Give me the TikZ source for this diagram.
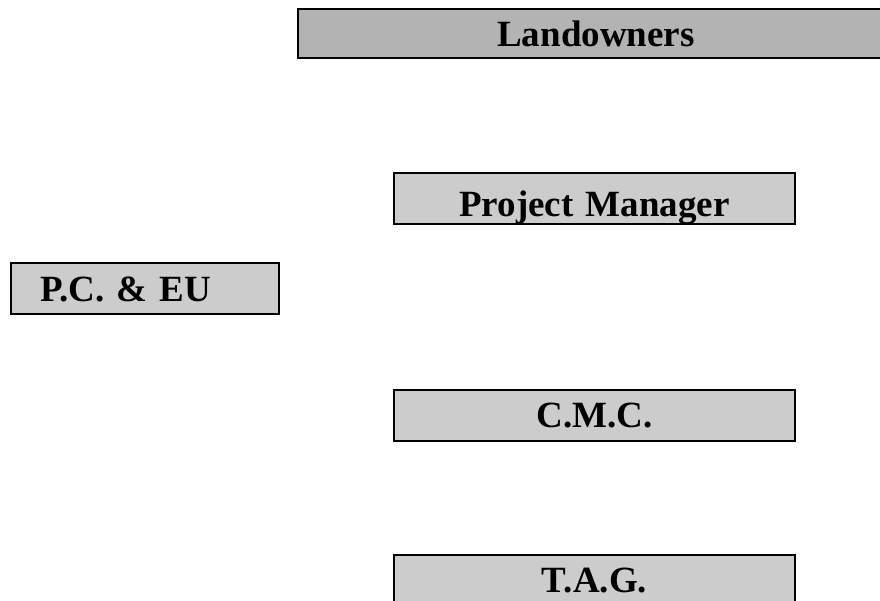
\documentclass[tikz,border=0pt]{standalone}
\usepackage{fontspec}
\setmainfont{Liberation Serif}
\definecolor{darkbox}{HTML}{B3B3B3}
\definecolor{lightbox}{HTML}{CCCCCC}
\begin{document}
\begin{tikzpicture}[x=1pt,y=1pt,
  orgbox/.style={draw=black, line width=2.4pt, fill=lightbox, inner sep=0pt, anchor=base,
    font=\fontsize{37}{44}\selectfont\bfseries, align=center},
  topbox/.style={orgbox, fill=darkbox, line width=2.8pt}]
\useasboundingbox (0,0) rectangle (880,601);
\fill[white] (0,0) rectangle (880,601);
% Landowners: x 298..894, y 543..592, baseline 554
\node[topbox, text width=596pt, text height=38pt, text depth=11pt] (land) at (596,554) {Landowners};
% Project Manager: x 394..795, y 377..428, baseline 384
\node[orgbox, text width=401pt, text height=44pt, text depth=7pt] (pm) at (594.5,384) {Project Manager};
% P.C. & EU: x 11..279, y 287..338, baseline 299
\node[orgbox, align=left, text width=268pt, text height=39pt, text depth=12pt] (pceu) at (145,299) {\hspace*{29pt}P.C. \& EU};
% C.M.C.: x 394..795, y 160..211, baseline 173
\node[orgbox, text width=401pt, text height=38pt, text depth=13pt] (cmc) at (594.5,173) {C.M.C.};
% T.A.G.: x 394..795, y -6..46, baseline 8
\node[orgbox, text width=401pt, text height=38pt, text depth=14pt] (tag) at (594.5,8) {T.A.G.};
\end{tikzpicture}
\end{document}
